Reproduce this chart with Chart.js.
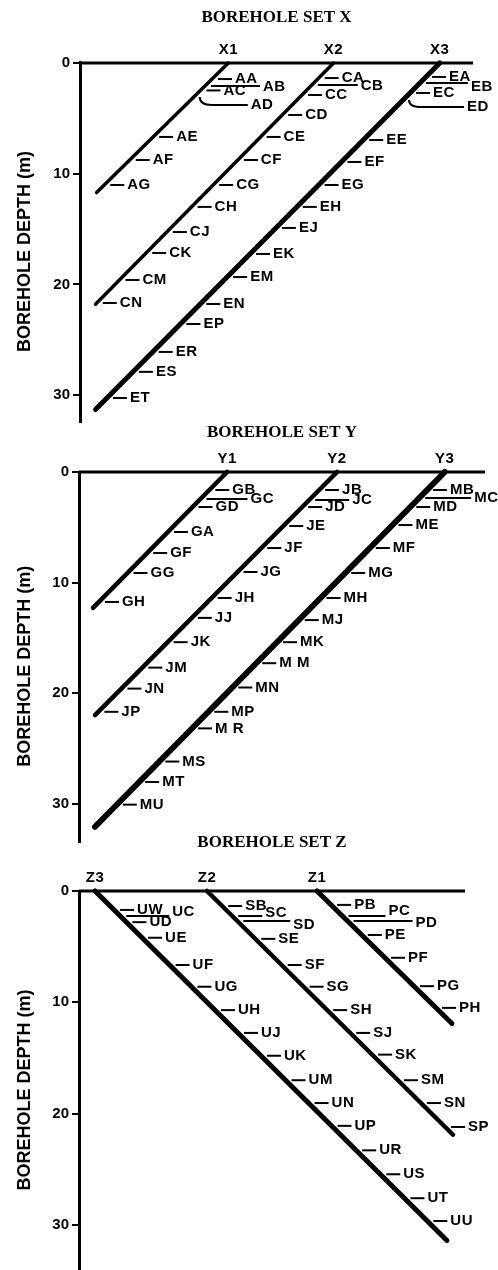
<!DOCTYPE html>
<html>
<head>
<meta charset="utf-8">
<script src="https://cdn.jsdelivr.net/npm/chart.js@4.4.0/dist/chart.umd.min.js"></script>
<style>
  html, body { margin: 0; padding: 0; background: #fff; }
  body { width: 498px; height: 1270px; position: relative; overflow: hidden; }
  canvas { position: absolute; left: 0; }
</style>
</head>
<body>
<canvas id="setX" width="498" height="425" style="top:0px"></canvas>
<canvas id="setY" width="498" height="430" style="top:415px"></canvas>
<canvas id="setZ" width="498" height="445" style="top:825px"></canvas>
<script>
const depthTicks = [0, 10, 20, 30];

// ---------- Set X ----------
const holesX = ["X1", "X2", "X3"];
const collarX = [13.4, 22.9, 32.5];      // horizontal position of collar (m)
const toeX = [1.5, 1.4, 1.4];            // horizontal position of hole bottom (m)
const toeDepthX = [11.7, 21.8, 31.3];    // depth of hole bottom (m)
const surfaceX = 35.5;
const zonesX1 = ["AA", "AB", "AC", "AD", "AE", "AF", "AG"];
const depthsX1 = [1.45, 2.08, 2.48, 3.07, 6.68, 8.76, 11.02];
const zonesX2 = ["CA", "CB", "CC", "CD", "CE", "CF", "CG", "CH", "CJ", "CK", "CM", "CN"];
const depthsX2 = [1.36, 1.99, 2.89, 4.7, 6.68, 8.76, 11.02, 13.0, 15.27, 17.16, 19.6, 21.68];
const zonesX3 = ["EA", "EB", "EC", "ED", "EE", "EF", "EG", "EH", "EJ", "EK", "EM", "EN", "EP", "ER", "ES", "ET"];
const depthsX3 = [1.26, 1.81, 2.71, 3.34, 6.96, 8.94, 11.02, 13.0, 14.9, 17.25, 19.33, 21.77, 23.58, 26.1, 27.9, 30.26];

// ---------- Set Y ----------
const holesY = ["Y1", "Y2", "Y3"];
const collarY = [13.4, 23.35, 33.1];
const toeY = [1.27, 1.45, 1.45];
const toeDepthY = [12.3, 22.0, 32.1];
const surfaceY = 36.74;
const zonesY1 = ["GB", "GC", "GD", "GA", "GF", "GG", "GH"];
const depthsY1 = [1.63, 2.44, 3.17, 5.43, 7.33, 9.14, 11.76];
const zonesY2 = ["JB", "JC", "JD", "JE", "JF", "JG", "JH", "JJ", "JK", "JM", "JN", "JP"];
const depthsY2 = [1.63, 2.53, 3.17, 4.89, 6.88, 9.05, 11.4, 13.2, 15.4, 17.7, 19.6, 21.7];
const zonesY3 = ["MB", "MC", "MD", "ME", "MF", "MG", "MH", "MJ", "MK", "M M", "MN", "MP", "M R", "MS", "MT", "MU"];
const depthsY3 = [1.63, 2.35, 3.17, 4.8, 6.88, 9.14, 11.4, 13.4, 15.4, 17.3, 19.5, 21.7, 23.2, 26.2, 28.05, 30.1];

// ---------- Set Z ----------
const holesZ = ["Z3", "Z2", "Z1"];
const collarZ = [1.44, 11.5, 21.38];
const toeZ = [33.06, 33.6, 33.51];
const toeDepthZ = [31.4, 21.9, 11.9];
const surfaceZ = 34.68;
const zonesZ3 = ["UW", "UC", "UD", "UE", "UF", "UG", "UH", "UJ", "UK", "UM", "UN", "UP", "UR", "US", "UT", "UU"];
const depthsZ3 = [1.7, 2.25, 2.8, 4.2, 6.65, 8.6, 10.7, 12.75, 14.8, 17.0, 19.05, 21.1, 23.3, 25.45, 27.6, 29.65];
const zonesZ2 = ["SB", "SC", "SD", "SE", "SF", "SG", "SH", "SJ", "SK", "SM", "SN", "SP"];
const depthsZ2 = [1.35, 2.25, 2.7, 4.3, 6.65, 8.6, 10.7, 12.75, 14.7, 17.0, 19.05, 21.2];
const zonesZ1 = ["PB", "PC", "PD", "PE", "PF", "PG", "PH"];
const depthsZ1 = [1.25, 2.25, 2.7, 3.95, 6.0, 8.55, 10.5];

// leader lines longer than the usual short dash (px), bend = curved leader, dy = text shift
const leaders = {
  AB: { len: 49, dy: 1 }, AD: { len: 48, bend: 8 }, CB: { len: 40, dy: 1 }, EB: { len: 42, dy: 4 },
  ED: { len: 55, bend: 7 }, GC: { len: 41 }, JC: { len: 34 }, MC: { len: 46 },
  UC: { len: 43, dy: -4 }, SC: { len: 24, dy: -3 }, SD: { len: 47, dy: 4 },
  PC: { len: 37, dy: -5 }, PD: { len: 59, dy: 2 }
};

const SANS = "'Liberation Sans', Arial, sans-serif";

const panels = [
  { id: "setX", set: "X", holes: holesX, collar: collarX, toe: toeX, toeDepth: toeDepthX, surface: surfaceX,
    zones: [zonesX1, zonesX2, zonesX3], zoneDepths: [depthsX1, depthsX2, depthsX3],
    widths: [3.5, 3.5, 5], yMax: 32.43, axisLeft: 80, padRight: 25, padBottom: 3, titleGap: 34.8 },
  { id: "setY", set: "Y", holes: holesY, collar: collarY, toe: toeY, toeDepth: toeDepthY, surface: surfaceY,
    zones: [zonesY1, zonesY2, zonesY3], zoneDepths: [depthsY1, depthsY2, depthsY3],
    widths: [4.5, 4.5, 6], yMax: 33.48, axisLeft: 79, padRight: 13, padBottom: 3, titleGap: 28.8 },
  { id: "setZ", set: "Z", holes: holesZ, collar: collarZ, toe: toeZ, toeDepth: toeDepthZ, surface: surfaceZ,
    zones: [zonesZ3, zonesZ2, zonesZ1], zoneDepths: [depthsZ3, depthsZ2, depthsZ1],
    widths: [5, 4.5, 5], yMax: 34.05, axisLeft: 79, padRight: 33, padBottom: 0, titleGap: 37.8 }
];

// draws hole names, zone labels with their leader dashes, and the depth axis title
function zoneLabels(cfg) {
  return {
    id: "zoneLabels",
    afterDatasetsDraw(chart) {
      const { ctx, chartArea, scales: { x, y } } = chart;
      ctx.save();
      ctx.fillStyle = "#000";
      ctx.strokeStyle = "#000";
      ctx.font = "bold 15px " + SANS;
      ctx.letterSpacing = "0.5px";
      ctx.textBaseline = "middle";
      cfg.holes.forEach((hole, i) => {
        ctx.textAlign = "center";
        ctx.fillText(hole, x.getPixelForValue(cfg.collar[i]), chartArea.top - 13);
        ctx.textAlign = "left";
        cfg.zones[i].forEach((zone, j) => {
          const d = cfg.zoneDepths[i][j];
          const hx = cfg.collar[i] + (cfg.toe[i] - cfg.collar[i]) * d / cfg.toeDepth[i];
          const px = x.getPixelForValue(hx), py = y.getPixelForValue(d);
          const l = leaders[zone] || {};
          const x0 = px + 6, x1 = x0 + (l.len || 14);
          const yEnd = py + (l.bend || 0);
          ctx.lineWidth = 2;
          ctx.beginPath();
          ctx.moveTo(x0, py);
          if (l.bend) ctx.quadraticCurveTo(x0, yEnd, x0 + 12, yEnd);
          ctx.lineTo(x1, yEnd);
          ctx.stroke();
          ctx.fillText(zone, x1 + 3, yEnd + (l.dy || 0));
        });
      });
      // axis title sits a little below the middle of the depth axis
      ctx.letterSpacing = "0px";
      ctx.font = "bold 18px " + SANS;
      ctx.textAlign = "center";
      ctx.translate(25, chartArea.top + chartArea.height * 0.525);
      ctx.rotate(-Math.PI / 2);
      ctx.fillText("BOREHOLE DEPTH (m)", 0, 0);
      ctx.restore();
    }
  };
}

function buildPanel(cfg) {
  const datasets = [{
    label: "surface",
    data: [{ x: 0, y: 0 }, { x: cfg.surface, y: 0 }],
    showLine: true, borderColor: "#000", borderWidth: 3, pointRadius: 0, clip: false
  }];
  cfg.holes.forEach((hole, i) => {
    datasets.push({
      label: hole,
      data: [{ x: cfg.collar[i], y: 0 }, { x: cfg.toe[i], y: cfg.toeDepth[i] }],
      showLine: true, borderColor: "#000", borderWidth: cfg.widths[i], borderCapStyle: "round",
      pointRadius: 0, clip: false
    });
  });

  return new Chart(document.getElementById(cfg.id), {
    type: "scatter",
    data: { datasets },
    options: {
      responsive: false,
      animation: false,
      events: [],
      layout: { padding: { top: 0, left: 0, right: cfg.padRight, bottom: cfg.padBottom } },
      plugins: {
        legend: { display: false },
        tooltip: { enabled: false },
        title: {
          display: true, text: "BOREHOLE SET " + cfg.set, fullSize: false, color: "#000",
          font: { family: "'Liberation Serif', 'Times New Roman', serif", weight: "bold", size: 17, lineHeight: 1.2 },
          padding: { top: 7.8, bottom: cfg.titleGap }
        }
      },
      scales: {
        x: { type: "linear", display: false, min: 0, max: cfg.surface },
        y: {
          type: "linear", reverse: true, min: 0, max: cfg.yMax,
          afterBuildTicks: (s) => { s.ticks = depthTicks.map(v => ({ value: v })); },
          afterFit: (s) => { s.width = cfg.axisLeft; s.paddingTop = 0; s.paddingBottom = 0; },
          border: { display: true, color: "#000", width: 3 },
          grid: { drawOnChartArea: false, drawTicks: true, color: "#000", lineWidth: 2, tickLength: 7 },
          ticks: { color: "#000", padding: 3, autoSkip: false, font: { family: SANS, weight: "bold", size: 15 } }
        }
      }
    },
    plugins: [zoneLabels(cfg)]
  });
}

panels.forEach(buildPanel);
</script>
</body>
</html>
